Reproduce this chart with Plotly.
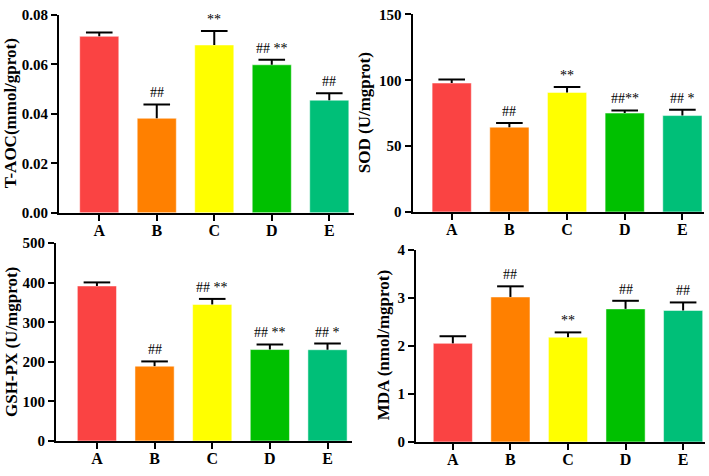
import plotly.graph_objects as go

groups = ["A", "B", "C", "D", "E"]
colors = ["#FA4343", "#FF8000", "#FFFF00", "#00C000", "#00BF78"]

t_aoc_mean = [0.0713, 0.0382, 0.0678, 0.0598, 0.0455]
t_aoc_err = [0.0015, 0.0056, 0.0056, 0.0020, 0.0028]
t_aoc_sig = ["", "##", "**", "## **", "##"]

sod_mean = [97.9, 64.4, 90.8, 75.1, 73.2]
sod_err = [2.7, 3.1, 4.1, 2.0, 4.4]
sod_sig = ["", "##", "**", "##**", "## *"]

gsh_mean = [391.7, 189.0, 345.0, 231.0, 230.5]
gsh_err = [9.0, 12.0, 14.0, 13.0, 15.5]
gsh_sig = ["", "##", "## **", "## **", "## *"]

mda_mean = [2.05, 3.015, 2.178, 2.767, 2.734]
mda_err = [0.148, 0.221, 0.100, 0.168, 0.167]
mda_sig = ["", "##", "**", "##", "##"]

W, H = 709, 476
FONT = "Liberation Serif"

panels = [
    dict(mean=t_aoc_mean, err=t_aoc_err, sig=t_aoc_sig, title="T-AOC(mmol/gprot)",
         yr=[0, 0.08], dt=0.02, fmt=".2f", box=(59, 354, 7, 212), xr=[-0.70, 4.43], tx=10.5),
    dict(mean=sod_mean, err=sod_err, sig=sod_sig, title="SOD (U/mgprot)",
         yr=[0, 150], dt=50, fmt="d", box=(412.5, 704.3, 6.7, 211), xr=[-0.68, 4.38], tx=364),
    dict(mean=gsh_mean, err=gsh_err, sig=gsh_sig, title="GSH-PX (U/mgprot)",
         yr=[0, 500], dt=100, fmt="d", box=(56, 352.3, 243.3, 448), xr=[-0.71, 4.43], tx=11),
    dict(mean=mda_mean, err=mda_err, sig=mda_sig, title="MDA (nmol/mgprot)",
         yr=[0, 4], dt=1, fmt="d", box=(416, 705, 250, 449), xr=[-0.64, 4.38], tx=383.5),
]

fig = go.Figure()
annotations = []
layout = dict(
    width=W, height=H, margin=dict(l=0, r=0, t=0, b=0),
    paper_bgcolor="white", plot_bgcolor="white", showlegend=False,
)

for k, p in enumerate(panels):
    s = "" if k == 0 else str(k + 1)
    x0, x1, yt, yb = p["box"]
    xs = list(range(5))
    tops = [m + e for m, e in zip(p["mean"], p["err"])]
    fig.add_trace(go.Bar(
        x=xs, y=p["mean"], width=0.68,
        marker=dict(color=colors, line=dict(color="rgba(255,255,255,0.5)", width=1)),
        xaxis="x" + s, yaxis="y" + s, hoverinfo="skip",
    ))
    sx, sy = [], []
    for i in xs:
        sx += [i, i, None]
        sy += [p["mean"][i], tops[i], None]
    fig.add_trace(go.Scatter(
        x=sx, y=sy, mode="lines", line=dict(color="black", width=2),
        xaxis="x" + s, yaxis="y" + s, hoverinfo="skip",
    ))
    fig.add_trace(go.Scatter(
        x=xs, y=tops, mode="markers",
        marker=dict(symbol="line-ew", size=19, line=dict(color="black", width=2)),
        xaxis="x" + s, yaxis="y" + s, hoverinfo="skip",
    ))
    layout["xaxis" + s] = dict(
        domain=[x0 / W, x1 / W], range=p["xr"], anchor="y" + s,
        tickmode="array", tickvals=xs, ticktext=groups,
        showline=True, linecolor="black", linewidth=2, ticks="outside",
        ticklen=6, tickwidth=2, tickcolor="black", showgrid=False, zeroline=False,
        ticklabelstandoff=-4,
        tickfont=dict(family=FONT, size=16, color="black", weight="bold"),
    )
    layout["yaxis" + s] = dict(
        domain=[1 - yb / H, 1 - yt / H], range=p["yr"], anchor="x" + s,
        tickmode="linear", tick0=0, dtick=p["dt"], tickformat=p["fmt"],
        showline=True, linecolor="black", linewidth=2, ticks="outside",
        ticklen=6, tickwidth=2, tickcolor="black", showgrid=False, zeroline=False,
        tickfont=dict(family=FONT, size=15, color="black", weight="bold"),
    )
    annotations.append(dict(
        text=p["title"], xref="paper", yref="paper", x=p["tx"] / W,
        y=1 - (yt + yb) / 2 / H, textangle=-90, showarrow=False,
        xanchor="center", yanchor="middle",
        font=dict(family=FONT, size=17, color="black", weight="bold"),
    ))
    for i in xs:
        if p["sig"][i]:
            annotations.append(dict(
                text=p["sig"][i], xref="x" + s, yref="y" + s, x=i,
                y=tops[i], yanchor="bottom", xanchor="center",
                yshift=2, showarrow=False,
                font=dict(family=FONT, size=14, color="black"),
            ))

layout["annotations"] = annotations
fig.update_layout(**layout)
fig.write_html("out.html", config={"displayModeBar": False},
               post_script="document.body.style.margin='0px';")
